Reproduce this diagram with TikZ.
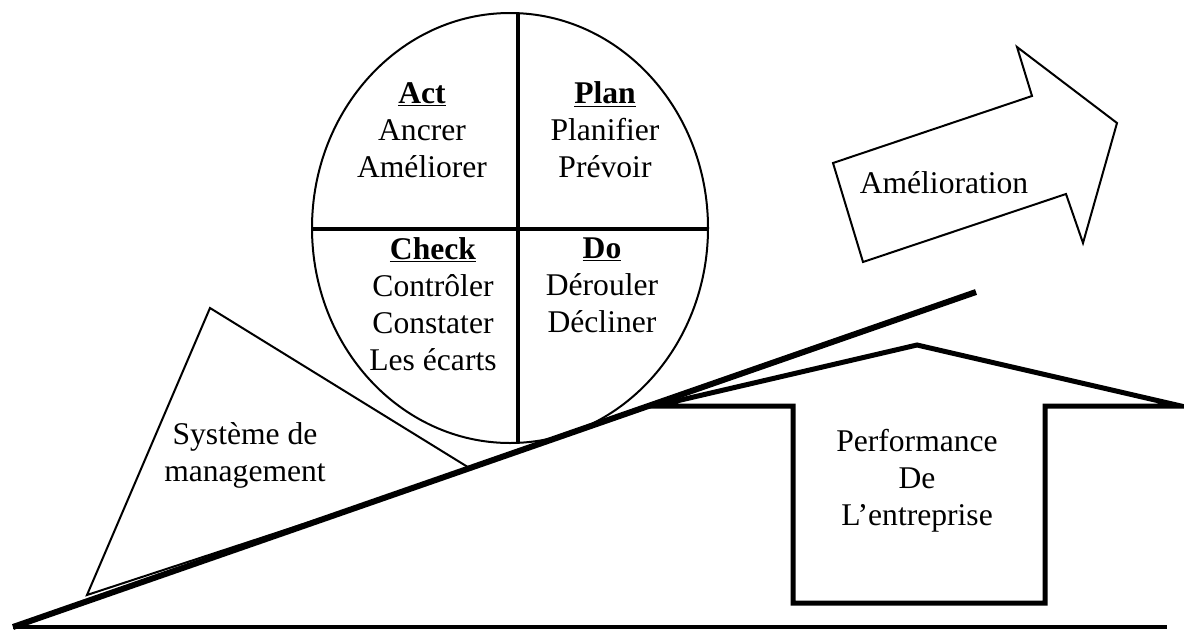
\documentclass[tikz,border=0pt]{standalone}
\usepackage{fontspec}
\setmainfont{Liberation Serif}

\tikzset{every picture/.style={line width=0.75pt}}
\tikzset{pdcatext/.style={font=\fontsize{23.7}{27.75}\selectfont, align=center, inner sep=0pt}}

\begin{document}
\begin{tikzpicture}[x=0.75pt,y=0.75pt,yscale=-1,xscale=1]
\useasboundingbox (0,0) rectangle (1184,629);

%Straight Lines: ground
\draw [line width=3pt]   (13,627) -- (1167,627) ;

%Shape: Triangle
\draw [line width=1.5pt]   (210,308) -- (471,469) -- (87,595) -- cycle ;

%Shape: Ellipse
\draw [line width=1.5pt]   (510,228) ellipse [x radius=198, y radius=215] ;
%Straight Lines
\draw [line width=3.5pt]   (518,13) -- (518,443) ;
%Straight Lines
\draw [line width=3pt]   (312,229) -- (708,229) ;

%Straight Lines: slope
\draw [line width=4.5pt]   (13,627) -- (976,292) ;

%Shape: Up Arrow
\draw [line width=3.75pt]   (655,406) -- (917,345) -- (1181,406) -- (1045,406) -- (1045,603) -- (793,603) -- (793,406) -- cycle ;

%Shape: Right Arrow
\draw [line width=1.5pt]   (833,163) -- (1032,96) -- (1017,47) -- (1117,123) -- (1083,243) -- (1066,194) -- (863,262) -- cycle ;


% Text Node
\draw (422,130) node (act) [pdcatext] {\underline{\textbf{Act}}\\Ancrer\\Améliorer};
% Text Node
\draw (605,130) node (plan) [pdcatext] {\underline{\textbf{Plan}}\\Planifier\\Prévoir};
% Text Node
\draw (433,304) node (check) [pdcatext] {\underline{\textbf{Check}}\\Contrôler\\Constater\\Les écarts};
% Text Node
\draw (602,285) node (do) [pdcatext] {\underline{\textbf{Do}}\\Dérouler\\Décliner};
% Text Node
\draw (245,455) node (systeme) [pdcatext] {Système de\\management};
% Text Node
\draw (917,481) node (performance) [pdcatext] {Performance\\De\\L’entreprise};
% Text Node
\draw (944,183) node (amelioration) [pdcatext] {Amélioration};

\end{tikzpicture}
\end{document}
